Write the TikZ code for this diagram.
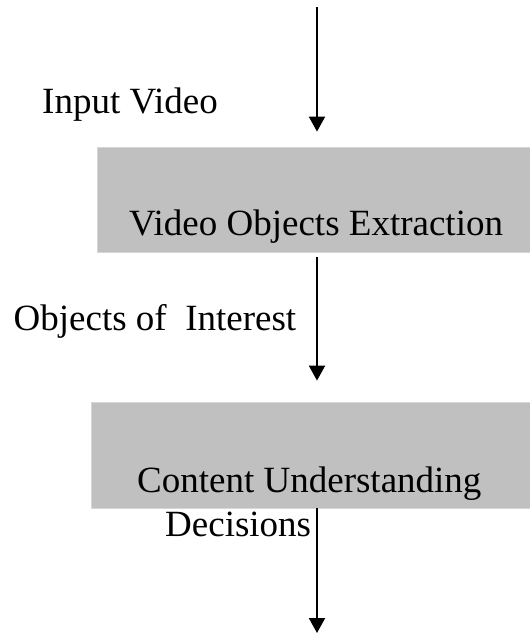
\documentclass[tikz,border=0pt]{standalone}
\usepackage{fontspec}
\setmainfont{Liberation Serif}
\usetikzlibrary{arrows.meta}
\definecolor{boxgray}{RGB}{192,192,192}
\definecolor{boxedge}{RGB}{215,215,215}
\begin{document}
\begin{tikzpicture}[x=1pt,y=-1pt,
  stage/.style={fill=boxgray,draw=boxedge,line width=0.8pt,inner sep=0pt},
  caption/.style={inner sep=0pt,anchor=base west,
    font=\fontsize{37}{44}\selectfont},
  flow/.style={line width=2pt,-{Triangle[width=16pt,length=15pt]}}]
  \useasboundingbox (0,0) rectangle (530,635);

  % processing stages
  \node[stage,minimum width=433pt,minimum height=105pt] (vox) at (313.5,199.5) {};
  \node[stage,minimum width=439pt,minimum height=106pt] (cu) at (310.5,455) {};

  % texts
  \node[caption] (invid) at (42,113) {Input Video};
  \node[caption] (voxt) at (129,235) {Video Objects Extraction};
  \node[caption] (ooi) at (13.5,330) {Objects of\ \ Interest};
  \node[caption] (cut) at (137,492) {Content Understanding};
  \node[caption] (dec) at (165,536) {Decisions};

  % flow between stages
  \coordinate (src) at (317,7);
  \coordinate (out) at (317,633);
  \draw[flow,shorten >=15pt] (src) -- (src |- vox.north);
  \draw[flow,shorten <=5pt,shorten >=21pt] (src |- vox.south) -- (src |- cu.north);
  \draw[flow] (src |- cu.south) -- (out);
\end{tikzpicture}
\end{document}
